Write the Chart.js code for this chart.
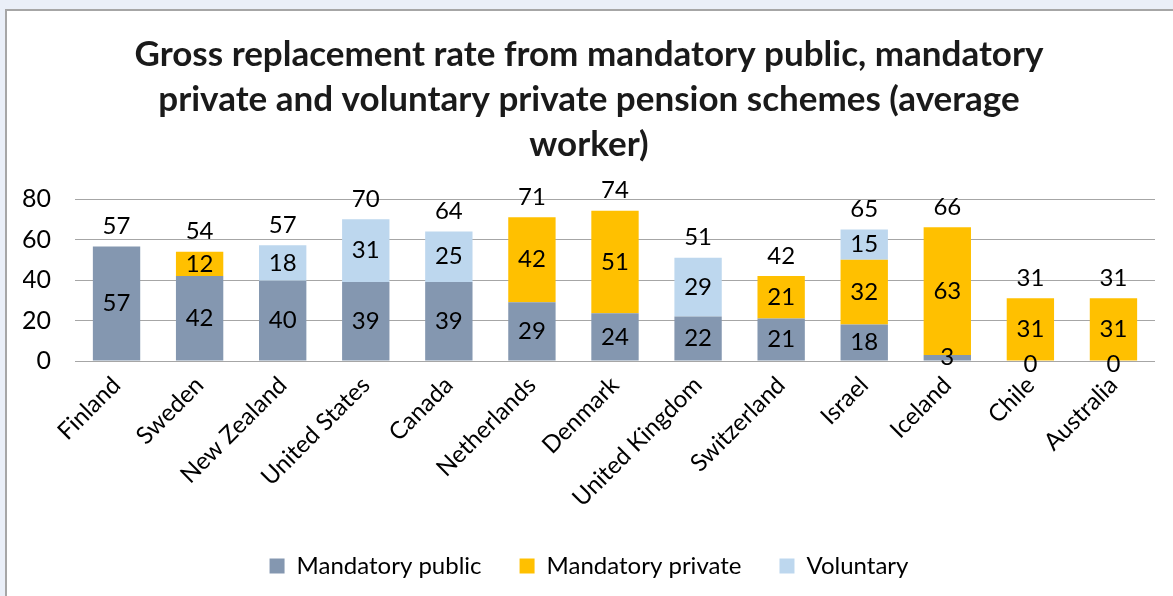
<!DOCTYPE html>
<html>
<head>
<meta charset="utf-8">
<script src="https://cdn.jsdelivr.net/npm/chart.js@4.4.1/dist/chart.umd.min.js"></script>
<style>
  html, body { margin: 0; padding: 0; background: #eaeff8; overflow: hidden; }
  .frame {
    position: absolute; left: 5px; top: 9px; width: 1168px; height: 587px;
    background: #fff; border-left: 2px solid #a6a6a6; border-top: 2px solid #a6a6a6;
    box-sizing: border-box;
  }
  canvas { display: block; }
</style>
</head>
<body>
<div class="frame"><canvas id="grossRate" width="1166" height="585"></canvas></div>
<script>
const countries = ["Finland", "Sweden", "New Zealand", "United States", "Canada", "Netherlands",
  "Denmark", "United Kingdom", "Switzerland", "Israel", "Iceland", "Chile", "Australia"];
const mandatoryPublic  = [56.6, 42, 39.6, 39, 39, 29, 23.6, 22, 21, 18, 3, 0, 0];
const mandatoryPrivate = [0, 12, 0, 0, 0, 42, 50.6, 0, 21, 32, 63, 31, 31];
const voluntary        = [0, 0, 17.6, 31, 25, 0, 0, 29, 0, 15, 0, 0, 0];
const yTicks = [0, 20, 40, 60, 80];

const totals = countries.map((c, i) => mandatoryPublic[i] + mandatoryPrivate[i] + voluntary[i]);

const FONT = 'Lato';

// segment values in the middle of each piece, totals above each bar
const valueLabels = {
  id: 'valueLabels',
  afterDatasetsDraw(chart) {
    const ctx = chart.ctx;
    ctx.save();
    ctx.font = '24px ' + FONT;
    ctx.fillStyle = '#000';
    ctx.textAlign = 'center';
    ctx.textBaseline = 'middle';
    chart.data.datasets.forEach((ds, i) => {
      const meta = chart.getDatasetMeta(i);
      meta.data.forEach((bar, j) => {
        const v = ds.data[j];
        if (v === 0 && i !== 0) return;
        ctx.fillText(Math.round(v), bar.x, (bar.y + bar.base) / 2 + (v === 0 ? 3 : 0));
      });
    });
    const yScale = chart.scales.y;
    const base = chart.getDatasetMeta(0).data;
    totals.forEach((t, j) => {
      ctx.fillText(Math.round(t), base[j].x, yScale.getPixelForValue(t) - 20);
    });
    ctx.restore();
  }
};

const grossRate = new Chart('grossRate', {
  type: 'bar',
  data: {
    labels: countries,
    datasets: [
      { label: 'Mandatory public', data: mandatoryPublic, backgroundColor: '#8497b0' },
      { label: 'Mandatory private', data: mandatoryPrivate, backgroundColor: '#ffc000' },
      { label: 'Voluntary', data: voluntary, backgroundColor: '#bdd7ee' }
    ]
  },
  options: {
    responsive: false,
    animation: false,
    barPercentage: 0.57,
    categoryPercentage: 1,
    layout: { padding: { left: 16, right: 18, top: 0, bottom: 8 } },
    plugins: {
      title: {
        display: true,
        text: ['Gross replacement rate from mandatory public, mandatory',
               'private and voluntary private pension schemes (average',
               'worker)'],
        color: '#1a1a1a',
        font: { family: FONT, size: 35, weight: 'bold', lineHeight: 45 / 35 },
        padding: { top: 21, bottom: 32 }
      },
      legend: {
        position: 'bottom',
        labels: {
          color: '#000',
          font: { family: FONT, size: 24 },
          boxWidth: 15,
          boxHeight: 15,
          padding: 38
        }
      },
      tooltip: { enabled: false }
    },
    scales: {
      x: {
        stacked: true,
        grid: { display: false },
        border: { display: false },
        ticks: {
          color: '#000',
          font: { family: FONT, size: 24 },
          minRotation: 45,
          maxRotation: 45,
          autoSkip: false,
          padding: 2
        },
        afterFit(scale) { scale.height = 155; }
      },
      y: {
        stacked: true,
        min: 0,
        max: 80,
        afterBuildTicks(scale) { scale.ticks = yTicks.map(v => ({ value: v })); },
        grid: { color: '#a6a6a6', drawTicks: false },
        border: { display: false },
        ticks: { color: '#000', font: { family: FONT, size: 25 }, padding: 24 },
        afterFit(scale) { scale.width = 52; }
      }
    }
  },
  plugins: [valueLabels]
});
</script>
</body>
</html>
